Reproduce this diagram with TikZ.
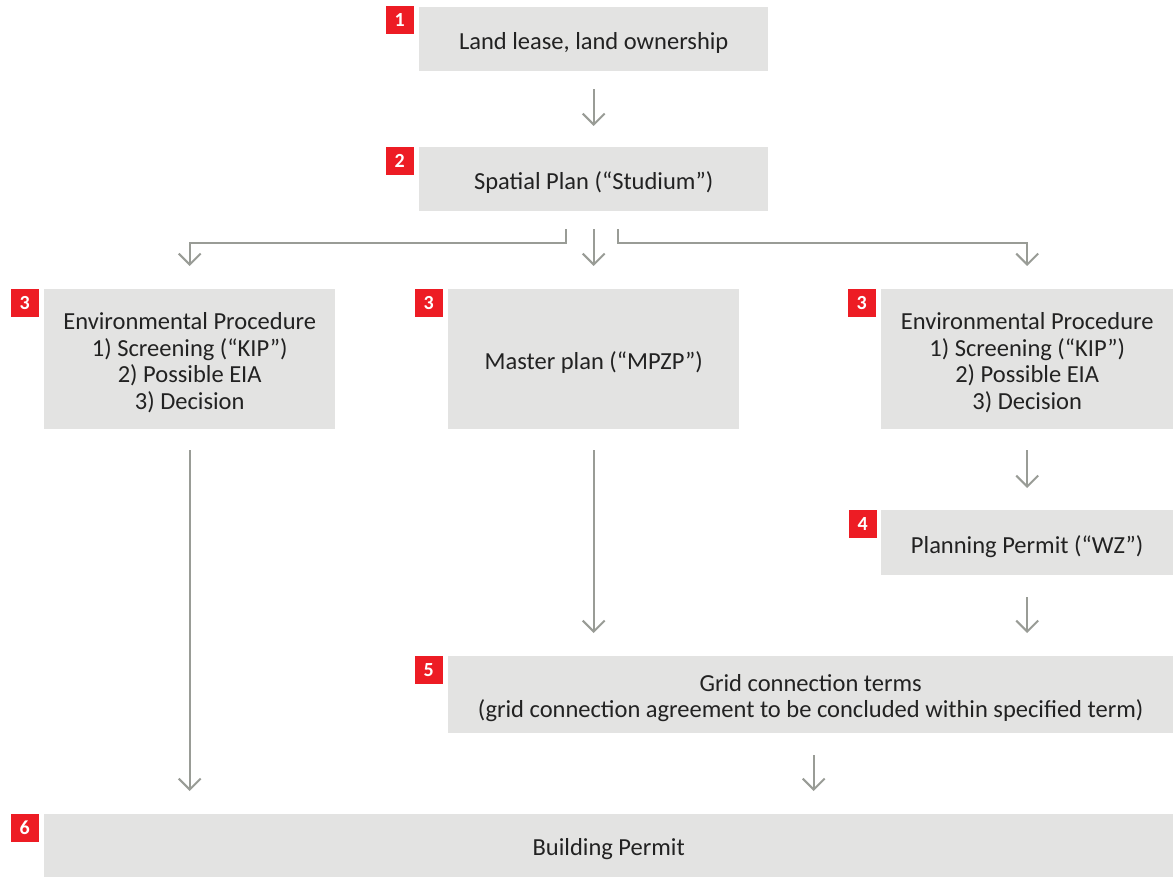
\documentclass[tikz,border=0pt]{standalone}
\usepackage{fontspec}
\setmainfont{Carlito}
\usetikzlibrary{arrows.meta,calc}

\definecolor{boxgray}{HTML}{E3E3E2}
\definecolor{badgered}{HTML}{ED1C24}
\definecolor{arrowgray}{HTML}{999C96}
\definecolor{textdark}{HTML}{222222}

\tikzset{
  box/.style={fill=boxgray, draw=none, inner sep=0pt, anchor=north west},
  boxtext/.style={align=center, text=textdark, yshift=-3.5pt, inner sep=0pt,
    font=\fontsize{24.5}{26.5}\selectfont},
  badge/.style={fill=badgered, draw=none, inner sep=0pt, minimum width=28pt,
    minimum height=27.5pt, anchor=north east, text=white,
    font=\fontsize{20}{20}\selectfont\bfseries},
  arr/.style={draw=arrowgray, line width=2pt,
    -{Straight Barb[length=11pt,width=22pt,line width=2pt]}},
}

\begin{document}
\begin{tikzpicture}[x=1pt,y=-1pt]
\useasboundingbox (0,0) rectangle (1173,877);

% process boxes, each with its caption centred inside
\node[box, minimum width=349pt, minimum height=64pt,
  label={[boxtext]center:{Land lease, land ownership}}] (b1) at (419,7) {};
\node[box, minimum width=349pt, minimum height=64pt,
  label={[boxtext]center:{Spatial Plan (“Studium”)}}] (b2) at (419,147) {};
\node[box, minimum width=291pt, minimum height=140pt,
  label={[boxtext]center:{Environmental Procedure\\1) Screening (“KIP”)\\2) Possible EIA\\3) Decision}}]
  (b3l) at (44,289) {};
\node[box, minimum width=291pt, minimum height=140pt,
  label={[boxtext]center:{Master plan (“MPZP”)}}] (b3m) at (448,289) {};
\node[box, minimum width=292pt, minimum height=140pt,
  label={[boxtext]center:{Environmental Procedure\\1) Screening (“KIP”)\\2) Possible EIA\\3) Decision}}]
  (b3r) at (881,289) {};
\node[box, minimum width=292pt, minimum height=65pt,
  label={[boxtext]center:{Planning Permit (“WZ”)}}] (b4) at (881,510) {};
\node[box, minimum width=725pt, minimum height=77pt,
  label={[boxtext]center:{Grid connection terms\\(grid connection agreement to be concluded within specified term)}}]
  (b5) at (448,656) {};
\node[box, minimum width=1129pt, minimum height=63pt,
  label={[boxtext]center:{Building Permit}}] (b6) at (44,814) {};

% step numbers
\node[badge] (n1) at ([xshift=-5pt,yshift=1pt]b1.north west) {1};
\node[badge] (n2) at ([xshift=-5pt]b2.north west) {2};
\node[badge] (n3l) at ([xshift=-5pt]b3l.north west) {3};
\node[badge] (n3m) at ([xshift=-5pt]b3m.north west) {3};
\node[badge] (n3r) at ([xshift=-5pt]b3r.north west) {3};
\node[badge] (n4) at ([xshift=-4pt]b4.north west) {4};
\node[badge] (n5) at ([xshift=-5pt]b5.north west) {5};
\node[badge] (n6) at ([xshift=-5pt]b6.north west) {6};

% connectors
\draw[arr, shorten <=18pt, shorten >=21pt] (b1.south) -- (b2.north);

\coordinate (sl) at ([shift={(-27.5,18)}]b2.south);
\coordinate (sr) at ([shift={(24.5,18)}]b2.south);
\draw[arr, shorten >=23pt] (sl) -- ++(0,13.5) -| (b3l.north);
\draw[arr, shorten <=18pt, shorten >=23pt] (b2.south) -- (b2.south |- b3m.north);
\draw[arr, shorten >=23pt] (sr) -- ++(0,13.5) -| (b3r.north);

\draw[arr, shorten <=21pt, shorten >=23pt] (b3l.south) -- (b3l.south |- b6.north);
\draw[arr, shorten <=21pt, shorten >=23pt] (b3m.south) -- (b3m.south |- b5.north);
\draw[arr, shorten <=21pt, shorten >=22pt] (b3r.south) -- (b4.north);
\draw[arr, shorten <=22pt, shorten >=23pt] (b4.south) -- (b4.south |- b5.north);
\draw[arr, shorten <=22pt, shorten >=23pt] ([xshift=3pt]b5.south) -- ([xshift=3pt]b5.south |- b6.north);
\end{tikzpicture}
\end{document}
